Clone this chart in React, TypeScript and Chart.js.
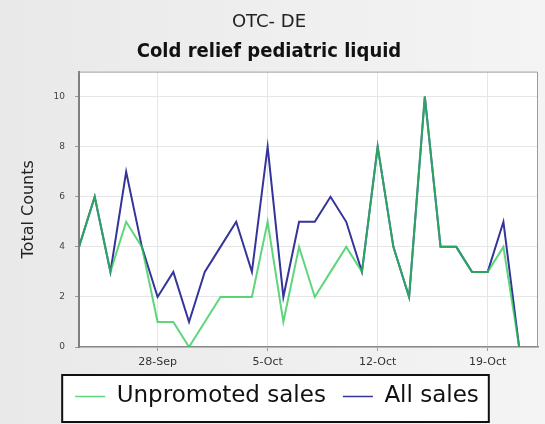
import React, { useEffect, useRef } from "react";
import { Chart, registerables } from "chart.js";

Chart.register(...registerables);

const dates = [
  "23-Sep", "24-Sep", "25-Sep", "26-Sep", "27-Sep", "28-Sep", "29-Sep", "30-Sep",
  "1-Oct", "2-Oct", "3-Oct", "4-Oct", "5-Oct", "6-Oct", "7-Oct", "8-Oct", "9-Oct",
  "10-Oct", "11-Oct", "12-Oct", "13-Oct", "14-Oct", "15-Oct", "16-Oct", "17-Oct",
  "18-Oct", "19-Oct", "20-Oct", "21-Oct",
];
const unpromotedSales = [4, 6, 3, 5, 4, 1, 1, 0, 1, 2, 2, 2, 5, 1, 4, 2, 3, 4, 3, 8, 4, 2, 10, 4, 4, 3, 3, 4, 0];
const allSales = [4, 6, 3, 7, 4, 2, 3, 1, 3, 4, 5, 3, 8, 2, 5, 5, 6, 5, 3, 8, 4, 2, 10, 4, 4, 3, 3, 5, 0];
const xTickLabels = ["28-Sep", "5-Oct", "12-Oct", "19-Oct"];
const yTickValues = [0, 2, 4, 6, 8, 10];

const FONT = '"DejaVu Sans", sans-serif';

const backgroundPlugin = {
  id: "bgPlugin",
  afterLayout(chart: any) {
    if (chart.legend) {
      chart.legend.left += 16;
    }
  },
  beforeDraw(chart: any) {
    const { ctx, width, height, chartArea } = chart;
    ctx.save();
    const g = ctx.createLinearGradient(0, 0, width, 0);
    g.addColorStop(0, "#e9e9e9");
    g.addColorStop(1, "#f4f4f4");
    ctx.fillStyle = g;
    ctx.fillRect(0, 0, width, height);
    ctx.fillStyle = "#ffffff";
    ctx.fillRect(chartArea.left, chartArea.top, chartArea.right - chartArea.left, chartArea.bottom - chartArea.top);
    const lg = chart.legend;
    if (lg && lg.legendHitBoxes && lg.legendHitBoxes.length) {
      const hb = lg.legendHitBoxes;
      const first = hb[0];
      const last = hb[hb.length - 1];
      const x0 = first.left - 13;
      const x1 = last.left + last.width + 10;
      const y0 = first.top - 10;
      const y1 = first.top + first.height + 14;
      ctx.fillStyle = "#ffffff";
      ctx.fillRect(x0, y0, x1 - x0, y1 - y0);
      ctx.strokeStyle = "#111111";
      ctx.lineWidth = 2;
      ctx.strokeRect(x0, y0, x1 - x0, y1 - y0);
    }
    ctx.restore();
  },
  beforeDatasetsDraw(chart: any) {
    const { ctx, chartArea } = chart;
    ctx.save();
    ctx.strokeStyle = "#9a9a9a";
    ctx.lineWidth = 1;
    ctx.beginPath();
    ctx.moveTo(chartArea.left, chartArea.top + 0.5);
    ctx.lineTo(chartArea.right - 0.5, chartArea.top + 0.5);
    ctx.lineTo(chartArea.right - 0.5, chartArea.bottom);
    ctx.stroke();
    ctx.restore();
  },
};

export default function App() {
  const canvasRef = useRef<HTMLCanvasElement | null>(null);

  useEffect(() => {
    document.body.style.margin = "0";
    const canvas = canvasRef.current;
    if (!canvas) return;
    Chart.defaults.font.family = FONT;

    const chart = new Chart(canvas, {
      type: "line",
      data: {
        datasets: [
          {
            label: "Unpromoted sales",
            data: unpromotedSales.map((v, i) => ({ x: i, y: v })),
            borderColor: "rgba(40,200,80,0.75)",
            backgroundColor: "rgba(40,200,80,0.75)",
            borderWidth: 2,
            pointRadius: 0,
            tension: 0,
            fill: false,
          },
          {
            label: "All sales",
            data: allSales.map((v, i) => ({ x: i, y: v })),
            borderColor: "#34349a",
            backgroundColor: "#34349a",
            borderWidth: 2,
            pointRadius: 0,
            tension: 0,
            fill: false,
          },
        ],
      },
      options: {
        responsive: false,
        animation: false,
        events: [],
        layout: { padding: { left: 0, right: 7, top: 0, bottom: 6 } },
        plugins: {
          title: {
            display: true,
            text: "OTC- DE",
            color: "#222222",
            font: { size: 18, weight: "normal", family: FONT },
            padding: { top: 12, bottom: 0 },
          },
          subtitle: {
            display: true,
            text: "Cold relief pediatric liquid",
            color: "#111111",
            font: { size: 20, weight: "bold", family: '"DejaVu Sans Condensed", "DejaVu Sans", sans-serif' },
            padding: { top: 6, bottom: 8 },
          },
          legend: {
            display: true,
            position: "bottom",
            labels: {
              usePointStyle: true,
              pointStyle: "line",
              pointStyleWidth: 30,
              padding: 17,
              color: "#111111",
              font: { size: 23, family: FONT },
              generateLabels: (c: any) => {
                const items = Chart.defaults.plugins.legend.labels.generateLabels(c);
                items.forEach((it: any) => {
                  it.lineWidth = 1.5;
                });
                return items;
              },
            },
          },
          tooltip: { enabled: false },
        },
        scales: {
          x: {
            type: "linear",
            min: 0,
            max: 29.2,
            afterBuildTicks: (s: any) => {
              s.ticks = xTickLabels.map((l) => ({ value: dates.indexOf(l) }));
            },
            afterFit: (s: any) => {
              s.height = 21;
            },
            ticks: {
              callback: (v: any) => dates[Math.round(Number(v))] ?? "",
              color: "#333333",
              font: { size: 11, family: FONT },
              padding: 5,
              maxRotation: 0,
              autoSkip: false,
            },
            grid: { color: "#e6e6e6", tickLength: 4, tickColor: "#999999", drawTicks: true },
            border: { color: "#888888", width: 1.5 },
          },
          y: {
            type: "linear",
            min: 0,
            max: 11,
            afterBuildTicks: (s: any) => {
              s.ticks = yTickValues.map((v) => ({ value: v }));
            },
            afterFit: (s: any) => {
              s.width = 79;
            },
            ticks: {
              color: "#444444",
              font: { size: 9, family: FONT },
              padding: 10,
            },
            grid: { color: "#e6e6e6", tickLength: 4, tickColor: "#999999" },
            border: { color: "#808080", width: 2 },
            title: {
              display: true,
              text: "Total Counts",
              color: "#222222",
              font: { size: 16, family: FONT },
              padding: { top: 19, bottom: 0 },
            },
          },
        },
      },
      plugins: [backgroundPlugin],
    } as any);

    return () => {
      chart.destroy();
    };
  }, []);

  return (
    <canvas
      ref={canvasRef}
      width={545}
      height={424}
      style={{ display: "block", width: "545px", height: "424px" }}
    />
  );
}
